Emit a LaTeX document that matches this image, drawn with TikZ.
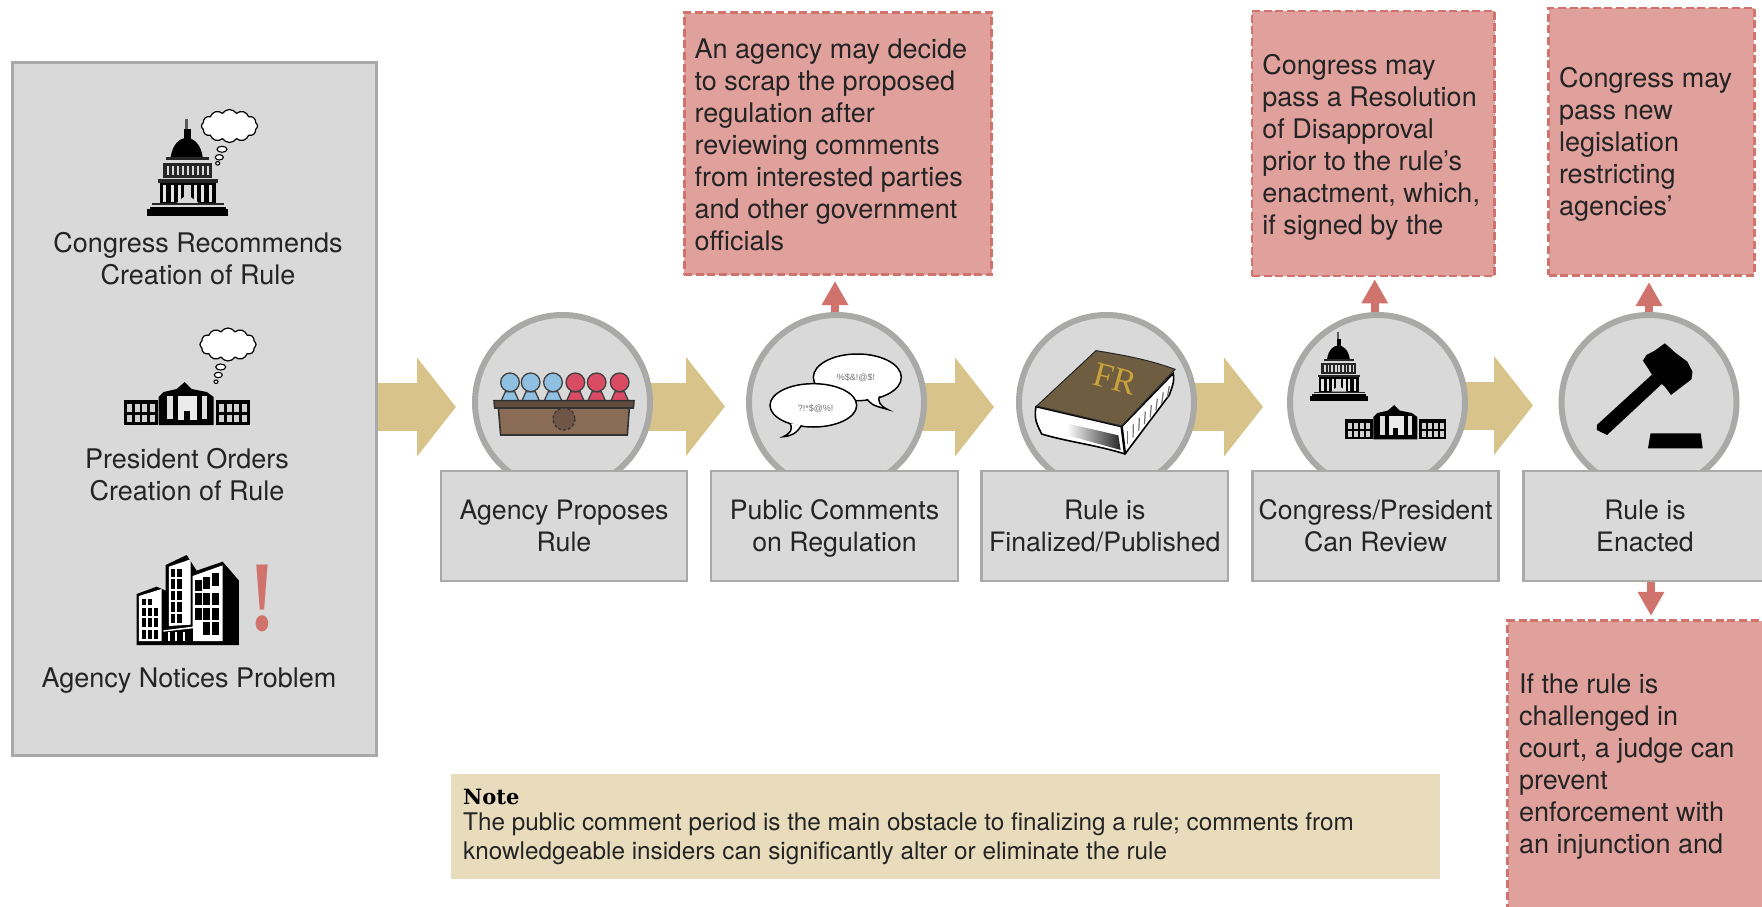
\documentclass[tikz,border=0pt]{standalone}
\usepackage{fontspec}
\setmainfont{TeX Gyre Heros}
\newfontfamily\lsfont{Liberation Sans}
\newfontfamily\tsfont{Liberation Serif}
\newfontfamily\dsfont{DejaVu Serif}
\usetikzlibrary{arrows.meta,shapes.symbols,shapes.geometric,backgrounds,calc}
\definecolor{panelfill}{HTML}{D9D9D9}
\definecolor{panelline}{HTML}{A9A9A7}
\definecolor{tanarrow}{HTML}{D8C48A}
\definecolor{redfill}{HTML}{E0A19C}
\definecolor{redline}{HTML}{D0736C}
\definecolor{notefill}{HTML}{E8DCBC}
\definecolor{inktext}{HTML}{242424}
\definecolor{chairblue}{HTML}{8FC0E2}
\definecolor{chairred}{HTML}{D94C63}
\definecolor{deskbrown}{HTML}{8A6B55}
\definecolor{sealbrown}{HTML}{6E5546}
\definecolor{bookcover}{HTML}{6F5D42}
\definecolor{bookgold}{HTML}{C9A23A}
\newcommand\ls{\rule[-5.4pt]{0pt}{29.4pt}}
\newcommand\lsn{\rule[-5pt]{0pt}{26pt}}
\tikzset{
  maintext/.style={font=\fontsize{26.7}{32}\selectfont,text=inktext},
  widetext/.style={font=\fontsize{27}{32}\selectfont,text=inktext},
  panelbox/.style={draw=panelline,fill=panelfill,line width=3pt,minimum width=364pt,minimum height=693pt,inner sep=0pt},
  stagecircle/.style={circle,draw=panelline,fill=panelfill,line width=6pt,minimum size=175pt,inner sep=0pt},
  stagebox/.style={draw=panelline,fill=panelfill,line width=2.2pt,minimum height=110pt,inner sep=0pt,align=center,maintext},
  redbox/.style={draw=redline,fill=redfill,line width=2.6pt,dash pattern=on 8pt off 3.6pt,inner sep=0pt},
  redtext/.style={anchor=north west,inner sep=0pt,align=left,widetext},
  paneltext/.style={anchor=north,inner sep=0pt,align=center,widetext},
  flow/.style={draw=tanarrow,line width=48pt,-{Triangle[length=39pt,width=97pt]},color=tanarrow},
  redflow/.style={draw=redline,line width=8pt,-{Triangle[length=24pt,width=25pt]},color=redline},
  thought/.style={cloud,cloud puffs=12,cloud puff arc=115,cloud ignores aspect,draw=black,fill=white,line width=1.2pt,minimum width=56pt,minimum height=33pt,inner sep=0pt},
  puff/.style={ellipse,draw=black,fill=white,line width=1.1pt,inner sep=0pt},
}
\newcommand\capitolicon[3]{%
\begin{scope}[shift={(#1,#2)},scale=#3]
  \fill[black!65] (38,0) rectangle (41,11);
  \fill[black] (37.5,10) rectangle (44,20);
  \fill[black] (24,38) .. controls (26,25) and (33,19) .. (40,19) .. controls (47,19) and (54,25) .. (56,38) -- cycle;
  \fill[black!85] (19,38) rectangle (62,41);
  \fill[black!85] (16,44) rectangle (65,59);
  \foreach \x in {20,25,30,35,40,45,50,55,60}{\fill[white!85!black] (\x,47) rectangle ++(2.4,9);}
  \fill[black!85] (11,60) rectangle (71,64);
  \fill[black] (13,64) rectangle (69,84);
  \foreach \x in {16,24,31,47,54,62}{\fill[white!90!black] (\x,66) rectangle ++(3,17);}
  \fill[white!85!black] (37,66) rectangle ++(7,13);
  \fill[white!85!black] (30,84) -- (37,78) -- (44,78) -- (52,84) -- cycle;
  \fill[black!85] (5,84) rectangle (77,86);
  \fill[black] (3,88) rectangle (79,90);
  \fill[black] (0,90) rectangle (81,97);
\end{scope}}
\newcommand\whitehouseicon[3]{%
\begin{scope}[shift={(#1,#2)},scale=#3]
  \fill[black] (1,18) rectangle (35,43);
  \fill[black] (93,18) rectangle (127,43);
  \foreach \i in {0,1,2,3}{\foreach \j in {0,1}{%
    \fill[white!82!black] (\i*7.6+4.4,\j*10.5+22) rectangle ++(5,7.6);
    \fill[white!82!black] (\i*7.6+96.4,\j*10.5+22) rectangle ++(5,7.6);}}
  \fill[black] (36,43) -- (36,15) -- (41,10) -- (54,7) -- (62,0) -- (69,7) -- (84,10) -- (91,15) -- (91,43) -- cycle;
  \fill[white!88!black] (44,14) rectangle (50,37);
  \fill[white!88!black] (79,14) rectangle (84,37);
  \fill[white!92!black] (55,14) rectangle (74,38);
  \fill[black] (61,29) rectangle (67,38);
\end{scope}}
\begin{document}
\begin{tikzpicture}[x=1pt,y=-1pt]
\useasboundingbox (0,0) rectangle (1762,907);
\clip (0,0) rectangle (1762,907);

% main nodes
\node[panelbox] (panel) at (194,409) {};
\node[stagecircle] (c1) at (562.5,402.5) {};
\node[stagecircle] (c2) at (836.5,402.5) {};
\node[stagecircle] (c3) at (1106.5,402.5) {};
\node[stagecircle] (c4) at (1377.5,402.5) {};
\node[stagecircle] (c5) at (1649,402.5) {};
\node[stagebox,minimum width=246pt] (b1) at (564,526) {\ls Agency Proposes\\\ls Rule};
\node[stagebox,minimum width=247pt] (b2) at (834.5,526) {\ls Public Comments\\\ls on Regulation};
\node[stagebox,minimum width=246.5pt] (b3) at (1104.75,526) {\ls Rule is\\\ls Finalized/Published};
\node[stagebox,minimum width=246pt] (b4) at (1375.5,526) {\ls Congress/President\\\ls Can Review};
\node[stagebox,minimum width=243pt] (b5) at (1645,526) {\ls Rule is\\\ls Enacted};

\node[redbox,minimum width=307.5pt,minimum height=262pt] (r1) at (838,143.7) {};
\node[redbox,minimum width=242.7pt,minimum height=265pt] (r2) at (1373.35,143.5) {};
\node[redbox,minimum width=205.6pt,minimum height=267.3pt] (r3) at (1651.5,141.65) {};
\node[redbox,minimum width=272pt,minimum height=310pt] (r4) at (1643.7,775.7) {};

\node[redtext] (t1) at (694.5,34.7) {\ls An agency may decide\\\ls to scrap the proposed\\\ls regulation after\\\ls reviewing comments\\\ls from interested parties\\\ls and other government\\\ls officials};
\node[redtext] (t2) at (1262.2,50.3) {\ls Congress may\\\ls pass a Resolution\\\ls of Disapproval\\\ls prior to the rule’s\\\ls enactment, which,\\\ls if signed by the};
\node[redtext] (t3) at (1558.8,63.3) {\ls Congress may\\\ls pass new\\\ls legislation\\\ls restricting\\\ls agencies’};
\node[redtext] (t4) at (1518.8,669) {\ls If the rule is\\\ls challenged in\\\ls court, a judge can\\\ls prevent\\\ls enforcement with\\\ls an injunction and};

% connectors behind the nodes
\coordinate (tip1) at (456,407);
\coordinate (tip2) at (725,406.5);
\coordinate (tip3) at (994,407);
\coordinate (tip4) at (1263,407);
\coordinate (tip5) at (1533,405.5);
\begin{pgfonlayer}{background}
\fill[white] (0,0) rectangle (1762,907);
\draw[flow] (panel.east |- tip1) -- (tip1);
\draw[flow] (c1.center |- tip2) -- (tip2);
\draw[flow] (c2.center |- tip3) -- (tip3);
\draw[flow] (c3.center |- tip4) -- (tip4);
\draw[flow] (c4.center |- tip5) -- (tip5);
\draw[redflow,shorten >=5pt] ([xshift=-1.5pt]c2.north) -- ([xshift=-1.5pt]c2.north |- r1.south);
\draw[redflow,shorten >=2pt] ([xshift=-2.8pt]c4.north) -- ([xshift=-2.8pt]c4.north |- r2.south);
\draw[redflow,shorten >=5.5pt] (c5.north) -- (c5.north |- r3.south);
\draw[redflow,shorten >=3.5pt] ([xshift=6pt]b5.south) -- ([xshift=6pt]b5.south |- r4.north);
\end{pgfonlayer}

% panel texts
\node[paneltext] (l1) at (198,228.3) {\ls Congress Recommends\\\ls Creation of Rule};
\node[paneltext] (l2) at (187,444.3) {\ls President Orders\\\ls Creation of Rule};
\node[paneltext] (l3) at (189,663.7) {\ls Agency Notices Problem};

% panel icons
\capitolicon{146.7}{119}{1}
\node[thought] (cloud1) at (229.5,126) {};
\node[puff,minimum width=10pt,minimum height=6pt] (p11) at (222,149.3) {};
\node[puff,minimum width=8pt,minimum height=5.4pt] (p12) at (219.3,157.3) {};
\node[puff,minimum width=4pt,minimum height=3.6pt] (p13) at (217.7,163.3) {};
\whitehouseicon{122.7}{382}{1}
\node[thought] (cloud2) at (228,344.5) {};
\node[puff,minimum width=10pt,minimum height=6pt] (p21) at (220.7,367) {};
\node[puff,minimum width=8pt,minimum height=5.4pt] (p22) at (218.3,375) {};
\node[puff,minimum width=4pt,minimum height=3.6pt] (p23) at (216,381.7) {};

% buildings, in the coordinates of a 3x crop
\begin{scope}[shift={(0,450)},scale=1/3]
  \fill[black] (410,432) -- (470,410) -- (497,422) -- (497,345) -- (560,315) -- (590,362) -- (668,335) -- (717,392) -- (717,585) -- (410,585) -- cycle;
  \fill[white] (417,438) -- (485,417) -- (485,573) -- (417,573) -- cycle;
  \foreach \yy in {473,505,540}{\foreach \xx in {426,443,461}{\fill[black] (\xx,\yy) rectangle ++(13,26);}}
  \foreach \xx in {426,443}{\fill[black] (\xx,446) rectangle ++(13,20);}
  \fill[white] (507,350) -- (572,328) -- (572,524) -- (507,528) -- cycle;
  \foreach \yy in {388,422,457,492}{\foreach \xx in {513,532}{\fill[black] (\xx,\yy) rectangle ++(13,28);}}
  \foreach \xx in {513,532}{\fill[black] (\xx,356) rectangle ++(13,24);}
  \fill[white] (578,378) -- (668,346) -- (668,573) -- (578,573) -- cycle;
  \foreach \yy in {428,475}{\foreach \xx in {585,610,636}{\fill[black] (\xx,\yy) rectangle ++(20,36);}}
  \fill[black] (585,390) rectangle ++(20,32);
  \fill[black] (610,380) rectangle ++(20,37);
  \fill[black] (636,370) rectangle ++(20,38);
  \foreach \xx in {610,636}{\fill[black] (\xx,516) rectangle ++(20,40);}
  \fill[black] (486,534) rectangle (578,578);
  \fill[white] (490,541) -- (578,530) -- (602,536) -- (600,539) -- (578,535) -- (490,545) -- cycle;
  \foreach \xx in {503,525,548}{\fill[white] (\xx,547) rectangle ++(7,26);}
\end{scope}
\node[anchor=base,inner sep=0pt,text=redline,xscale=.78,transform shape,font=\tsfont\bfseries\fontsize{100}{100}\selectfont] (bang) at (262.3,630.3) {!};

% benches
\begin{scope}[shift={(470,340)},scale=1/3]
  \foreach \xx/\cc in {120/chairblue,182/chairblue,249/chairblue,316/chairred,380/chairred,449/chairred}{
    \draw[fill=\cc,draw=black!75,line width=1.3pt] (\xx-26,182) -- (\xx-14,155) -- (\xx+14,155) -- (\xx+26,182) -- cycle;
    \draw[fill=\cc,draw=black!75,line width=1.3pt] (\xx,127) circle [radius=28];
  }
  \draw[fill=deskbrown,draw=black!80,line width=1.6pt] (85,203) -- (478,203) -- (472,285) -- (92,285) -- cycle;
  \draw[fill=deskbrown!70!black,draw=black!80,line width=1.6pt] (72,182) -- (492,182) -- (490,204) -- (74,204) -- cycle;
  \draw[fill=sealbrown,draw=black!80,line width=1.2pt,densely dashed] (282,237) circle [radius=33];
\end{scope}

% speech bubbles
\begin{scope}[shift={(750,330)},scale=1/3]
  \draw[fill=white,draw=black,line width=1.5pt] (322,142) ellipse [x radius=132,y radius=70];
  \draw[fill=white,draw=black,line width=1.5pt] (345,200) .. controls (365,225) .. (412,238) .. controls (392,228) and (380,215) .. (390,195);
  \fill[white] (322,142) ellipse [x radius=128,y radius=66];
  \draw[fill=white,draw=black,line width=1.5pt] (190,226) ellipse [x radius=130,y radius=65];
  \draw[fill=white,draw=black,line width=1.5pt] (120,280) .. controls (130,300) and (120,310) .. (100,320) .. controls (125,318) and (140,310) .. (155,285);
  \fill[white] (190,226) ellipse [x radius=126,y radius=61];
  \node[text=black!55,font=\lsfont\fontsize{9}{9}\selectfont,inner sep=0pt] (cuss1) at (318,143) {\%\$\&!@\$!};
  \node[text=black!55,font=\lsfont\fontsize{9}{9}\selectfont,inner sep=0pt] (cuss2) at (197,235) {?!*\$@\%!};
\end{scope}

% book
\begin{scope}[shift={(1010,310)},scale=1/3]
  \draw[fill=white,draw=black,line width=1.6pt] (78,290) -- (335,350) -- (490,190) .. controls (492,215) .. (478,255) -- (345,432) .. controls (260,405) and (170,395) .. (95,372) .. controls (85,350) and (70,330) .. (78,290) -- cycle;
  \foreach \t in {0,1,...,7}{
    \draw[black!55,line width=1.2pt] ($(352,362)!\t/7!(478,228)$) -- ($(352,402)!\t/7!(472,262)$);
  }
  \shade[left color=white,right color=black!85] (170,340) -- (325,376) -- (332,420) -- (180,378) -- cycle;
  \draw[black,line width=2.4pt] (335,350) -- (345,432);
  \draw[fill=bookcover,draw=black!85,line width=1pt] (258,122) .. controls (340,135) and (420,150) .. (495,178) -- (335,348) -- (80,288) -- cycle;
  \node[rotate=-15,text=bookgold,font=\tsfont\fontsize{35}{35}\selectfont,inner sep=0pt] (fr) at (315,207) {FR};
\end{scope}

\capitolicon{1310}{332}{0.71}
\whitehouseicon{1344.6}{405}{0.8}

% gavel, in the coordinates of a stretched crop
\begin{scope}[shift={(960,290)},xscale=0.5115,yscale=0.3333]
  \fill[black] (1378,160) -- (1400,190) -- (1422,215) -- (1432,245) -- (1430,268) -- (1390,315) -- (1378,290) -- (1355,260) -- (1345,235) -- (1335,212) -- (1342,195) -- (1358,182) -- cycle;
  \fill[black] (1352,255) -- (1372,282) -- (1265,435) -- (1245,420) -- (1245,405) -- cycle;
  \fill[black] (1350,430) -- (1448,430) -- (1452,475) -- (1345,475) -- cycle;
\end{scope}

% note
\node[fill=notefill,minimum width=989pt,minimum height=105pt,inner sep=0pt] (note) at (945.5,826.5) {};
\node[anchor=base west,inner sep=0pt,text=black,font=\dsfont\bfseries\fontsize{21}{25}\selectfont] (notehead) at (463,804) {Note};
\node[anchor=north west,inner sep=0pt,align=left,text=inktext,font=\fontsize{24.3}{29}\selectfont] (notebody) at (463,809) {\lsn The public comment period is the main obstacle to finalizing a rule; comments from\\\lsn knowledgeable insiders can significantly alter or eliminate the rule};
\end{tikzpicture}
\end{document}
